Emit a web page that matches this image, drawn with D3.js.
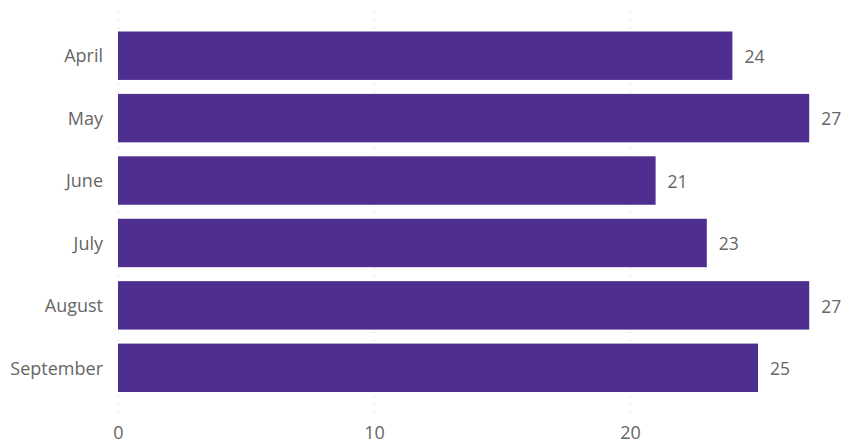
<!DOCTYPE html>
<html><head><meta charset="utf-8">
<script src="https://cdn.jsdelivr.net/npm/d3@7"></script>
<style>body{margin:0;background:#fff;overflow:hidden}text{font-family:"Open Sans","Noto Sans",sans-serif;}</style>
</head><body><svg id="c" width="841" height="444"></svg>
<script>
const months = ["April","May","June","July","August","September"];
const values = [24,27,21,23,27,25];
const ticks = [0,10,20];

const svg = d3.select("#c");
const x = d3.scaleLinear().domain([0,10]).range([118,374]);
const y = d3.scaleBand().domain(months).range([24.5,399]).paddingInner(0.224).paddingOuter(0.112);

// gridlines
svg.append("g").selectAll("line").data(ticks).join("line")
  .attr("x1",d=>x(d)+0.5).attr("x2",d=>x(d)+0.5)
  .attr("y1",12).attr("y2",420)
  .attr("stroke","#c8c8c8").attr("stroke-width",1).attr("stroke-dasharray","1,7");

// bars
svg.append("g").selectAll("rect").data(values).join("rect")
  .attr("x",x(0)).attr("y",(d,i)=>y(months[i]))
  .attr("width",d=>x(d)-x(0)).attr("height",y.bandwidth())
  .attr("fill","#4e2f8f");

// value labels
svg.append("g").selectAll("text").data(values).join("text")
  .attr("x",d=>x(d)+12).attr("y",(d,i)=>y(months[i])+y.bandwidth()/2+1)
  .attr("dy","0.35em").attr("fill","#666").attr("font-size",17.5).text(d=>d);

// category axis
const ya = svg.append("g").attr("transform","translate(118,1)").call(d3.axisLeft(y).tickSize(0).tickPadding(15));
ya.select(".domain").remove();
ya.selectAll("text").attr("fill","#666").attr("font-size",18).style("font-family",'"Open Sans","Noto Sans",sans-serif');

// x axis labels
const xa = svg.append("g").attr("transform","translate(0,418)").call(d3.axisBottom(x).tickValues(ticks).tickSize(0).tickPadding(8));
xa.select(".domain").remove();
xa.selectAll("text").attr("fill","#666").attr("font-size",18).style("font-family",'"Open Sans","Noto Sans",sans-serif');
</script></body></html>
